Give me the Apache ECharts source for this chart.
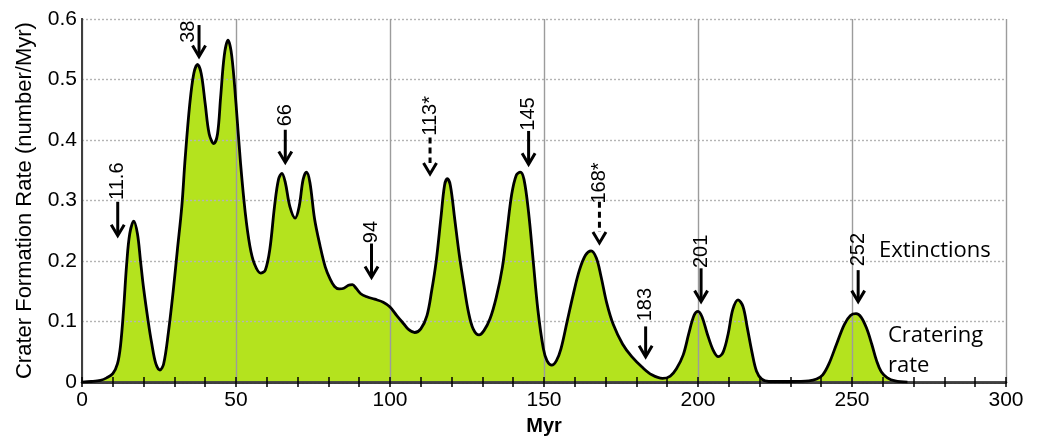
<!DOCTYPE html>
<html>
<head>
<meta charset="utf-8">
<title>Crater Formation Rate</title>
<script src="https://cdn.jsdelivr.net/npm/echarts@6/dist/echarts.min.js"></script>
<style>
  html, body { margin: 0; padding: 0; background: #fff; }
  #chart { width: 1041px; height: 441px; }
</style>
</head>
<body>
<div id="chart"></div>
<script>
// Cratering rate curve: age (Myr) and rate (number/Myr)
const myr = [
  0, 3, 6, 8, 10, 11.5, 12.5, 13.5, 14.5, 15.5, 16.8, 18, 19, 20, 21.5, 22.6, 24, 25.3, 26.5, 28,
  29.6, 31, 32.4, 33.5, 35, 36.3, 37.5, 38.7, 40, 41.3, 42.8, 44, 45, 46.2, 47.4, 48.6, 50, 51.5,
  53, 54.5, 56, 58, 59.5, 61, 62.5, 63.8, 64.9, 66, 67.5, 69.2, 70.5, 71.8, 72.9, 74, 75.5, 77.3,
  79, 80.5, 82, 83.5, 85, 86.5, 87.8, 89, 90.5, 92.5, 95, 97.8, 100, 102.2, 104.5, 106, 108, 110,
  112, 113.5, 115, 116.5, 117.7, 118.6, 119.6, 121, 122.5, 124, 125.5, 127, 128.9, 130.5, 132.5,
  134.5, 136.5, 138, 139.5, 141, 142.3, 143.5, 145, 146.5, 148, 149.8, 151, 152.5, 154, 155.5,
  157.5, 159.5, 161.5, 163.5, 165.3, 167, 168.5, 170.4, 172.5, 175.5, 178.5, 182, 185, 188.5, 191,
  193, 195.2, 197, 198.7, 200, 201.3, 203, 205, 206.6, 208.2, 209.8, 211.3, 213, 214.6, 216, 217.5,
  219, 220.7, 223, 230, 236, 238.5, 240.5, 242.5, 245, 247.5, 249.5, 251.3, 253, 254.8, 256.4, 258,
  259.5, 261.5, 264, 268
];
const rate = [
  0.000, 0.001, 0.003, 0.007, 0.014, 0.030, 0.060, 0.120, 0.195, 0.245, 0.266, 0.245, 0.200, 0.155, 0.100, 0.065, 0.030, 0.020, 0.030, 0.080,
  0.150, 0.220, 0.290, 0.370, 0.460, 0.510, 0.525, 0.510, 0.460, 0.410, 0.394, 0.410, 0.470, 0.540, 0.565, 0.540, 0.460, 0.360,
  0.280, 0.225, 0.195, 0.180, 0.185, 0.220, 0.290, 0.335, 0.345, 0.330, 0.290, 0.271, 0.290, 0.335, 0.347, 0.330, 0.270, 0.225,
  0.190, 0.171, 0.158, 0.154, 0.155, 0.160, 0.161, 0.155, 0.146, 0.141, 0.137, 0.132, 0.124, 0.110, 0.096, 0.087, 0.082, 0.088,
  0.110, 0.150, 0.200, 0.270, 0.325, 0.336, 0.325, 0.270, 0.210, 0.160, 0.115, 0.088, 0.078, 0.085, 0.105,
  0.140, 0.190, 0.250, 0.310, 0.342, 0.347, 0.335, 0.280, 0.200, 0.120, 0.055, 0.035, 0.028, 0.035, 0.055,
  0.100, 0.145, 0.185, 0.210, 0.217, 0.205, 0.175, 0.130, 0.095, 0.063, 0.042, 0.024, 0.012, 0.006, 0.010,
  0.022, 0.045, 0.080, 0.110, 0.117, 0.108, 0.080, 0.052, 0.042, 0.050, 0.080, 0.120, 0.136, 0.125, 0.090, 0.050,
  0.018, 0.005, 0.001, 0.001, 0.002, 0.005, 0.012, 0.030, 0.063, 0.095, 0.110, 0.113, 0.107, 0.088, 0.063, 0.035,
  0.017, 0.007, 0.002, 0.000
];

// Extinction events (Myr); an asterisk marks a tentative event, drawn with a dashed arrow
const extinctionAges = [11.6, 38, 66, 94, 113, 145, 168, 183, 201, 252];
const extinctionLabels = ['11.6', '38', '66', '94', '113*', '145', '168*', '183', '201', '252'];
const extinctionTentative = [false, false, false, false, true, false, true, false, false, false];

// Arrow placement in rate units: arrow tip, shaft top, label centre
const arrowTip = [0.242, 0.538, 0.363, 0.173, 0.344, 0.360, 0.230, 0.042, 0.133, 0.133];
const arrowTop = [0.298, 0.590, 0.417, 0.229, 0.404, 0.415, 0.298, 0.092, 0.188, 0.185];
const labelY   = [0.332, 0.579, 0.441, 0.248, 0.440, 0.443, 0.329, 0.128, 0.216, 0.219];
const labelDx  = [0, -11, 0, 0, 0, 0, 0, 0, 0, 0];

// Axis ticks
const xTicks = { min: 0, max: 300, interval: 50 };
const yTicks = { min: 0, max: 0.6, interval: 0.1 };

const curve = myr.map((x, i) => [x, rate[i]]);
const arrows = extinctionAges.map((x, i) => [x, arrowTip[i], arrowTop[i], labelY[i]]);

const chart = echarts.init(document.getElementById('chart'), null, { renderer: 'canvas' });

const tickFont = { fontFamily: 'Liberation Sans, Arial, sans-serif', fontSize: 21, color: '#000' };

function renderArrow(params, api) {
  const i = params.dataIndex;
  const tip = api.coord([api.value(0), api.value(1)]);
  const top = api.coord([api.value(0), api.value(2)]);
  const lab = api.coord([api.value(0), api.value(3)]);
  const x = tip[0];
  const head = 11, half = 6.5;
  return {
    type: 'group',
    children: [
      {
        type: 'line',
        shape: { x1: x, y1: top[1], x2: x, y2: tip[1] - (extinctionTentative[i] ? head : 2) },
        style: {
          stroke: '#000', lineWidth: 3,
          lineDash: extinctionTentative[i] ? [6, 4] : null
        }
      },
      {
        type: 'polyline',
        shape: { points: [[x - half, tip[1] - head], [x, tip[1]], [x + half, tip[1] - head]] },
        style: { stroke: '#000', lineWidth: 3, fill: null, lineJoin: 'miter' }
      },
      {
        type: 'text',
        x: lab[0] + labelDx[i],
        y: lab[1],
        rotation: Math.PI / 2,
        style: {
          text: extinctionLabels[i],
          x: 0, y: 0,
          align: 'center', verticalAlign: 'middle',
          fontFamily: 'Liberation Sans, Arial, sans-serif',
          fontSize: 20,
          fill: '#000'
        }
      }
    ]
  };
}

const option = {
  backgroundColor: '#fff',
  animation: false,
  grid: { left: 82, right: 35, top: 19, bottom: 52, containLabel: false },
  xAxis: [
    {
      type: 'value', position: 'bottom', z: 3,
      min: xTicks.min, max: xTicks.max, interval: xTicks.interval,
      name: 'Myr', nameLocation: 'middle', nameGap: 25,
      nameTextStyle: { fontFamily: 'Liberation Sans, Arial, sans-serif', fontSize: 20, fontWeight: 'bold', color: '#000' },
      axisLine: { show: true, lineStyle: { color: '#000', width: 2.5 } },
      axisTick: { show: true, inside: true, length: 5, lineStyle: { color: '#000', width: 1.5 } },
      minorTick: { show: true, splitNumber: 5, length: 5, lineStyle: { color: '#000', width: 1.5 } },
      axisLabel: Object.assign({ margin: 8 }, tickFont),
      splitLine: { show: true, lineStyle: { color: '#9c9c9c', width: 1.4, type: 'solid' } }
    },
    {
      type: 'value', position: 'top', z: 3,
      min: xTicks.min, max: xTicks.max, interval: xTicks.interval,
      axisLine: { show: true, lineStyle: { color: '#555', width: 1.5 } },
      axisTick: { show: true, inside: true, length: 5, lineStyle: { color: '#000', width: 1.5 } },
      minorTick: { show: true, splitNumber: 5, length: 5, lineStyle: { color: '#000', width: 1.5 } },
      axisLabel: { show: false },
      splitLine: { show: false }
    }
  ],
  yAxis: [
    {
      type: 'value', position: 'left', z: 3,
      min: yTicks.min, max: yTicks.max, interval: yTicks.interval,
      name: 'Crater Formation Rate (number/Myr)', nameLocation: 'middle', nameGap: 46,
      nameTextStyle: { fontFamily: 'Liberation Sans, Arial, sans-serif', fontSize: 22, color: '#000' },
      axisLine: { show: true, lineStyle: { color: '#000', width: 2 } },
      axisTick: { show: false },
      axisLabel: Object.assign({ margin: 5 }, tickFont),
      splitLine: { show: true, lineStyle: { color: '#b4b4b4', width: 1.4, type: [2, 2] } }
    },
    {
      type: 'value', position: 'right', z: 3,
      min: yTicks.min, max: yTicks.max, interval: yTicks.interval,
      axisLine: { show: true, lineStyle: { color: '#555', width: 1.5 } },
      axisTick: { show: false },
      axisLabel: { show: false },
      splitLine: { show: false }
    }
  ],
  series: [
    {
      name: 'fill', type: 'line', z: 1,
      data: curve, smooth: 0.35, symbol: 'none',
      lineStyle: { width: 0, opacity: 0 },
      areaStyle: { color: '#b4e31e', opacity: 1 }
    },
    {
      name: 'Cratering rate', type: 'line', z: 4,
      data: curve, smooth: 0.35, symbol: 'none',
      lineStyle: { color: '#000', width: 2.8 }
    },
    {
      name: 'Extinctions', type: 'custom', z: 5,
      data: arrows, renderItem: renderArrow, clip: false
    }
  ],
  graphic: [
    {
      type: 'text', left: 879, top: 240, z: 10,
      style: { text: 'Extinctions', fontFamily: 'Open Sans, sans-serif', fontSize: 22, fill: '#000' }
    },
    {
      type: 'text', left: 888, top: 321, z: 10,
      style: { text: 'Cratering\nrate', fontFamily: 'Open Sans, sans-serif', fontSize: 22, lineHeight: 30, fill: '#000' }
    }
  ]
};

chart.setOption(option);
</script>
</body>
</html>
